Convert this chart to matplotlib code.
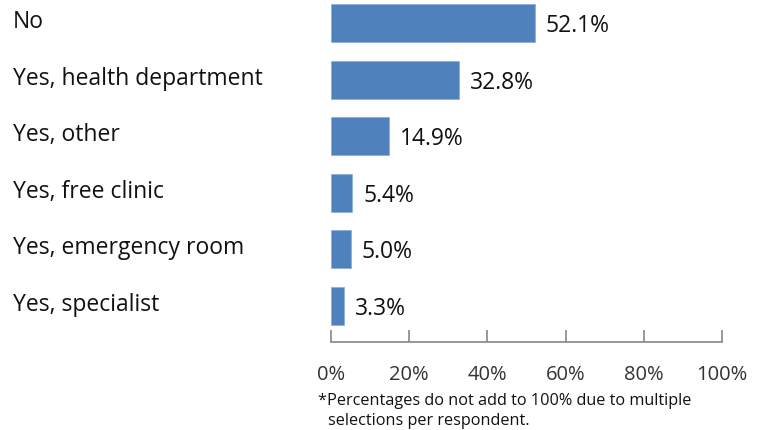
import matplotlib
matplotlib.use("Agg")
import matplotlib.pyplot as plt

categories = ["No", "Yes, health department", "Yes, other", "Yes, free clinic",
              "Yes, emergency room", "Yes, specialist"]
values = [52.1, 32.8, 14.9, 5.4, 5.0, 3.3]
tick_values = [0, 20, 40, 60, 80, 100]
tick_labels = ["0%", "20%", "40%", "60%", "80%", "100%"]
footnote_lines = ["*Percentages do not add to 100% due to multiple",
                  "selections per respondent."]

plt.rcParams["font.family"] = ["Open Sans", "DejaVu Sans"]

W, H = 765, 431
fig = plt.figure(figsize=(W / 100, H / 100), dpi=100)
ax = fig.add_axes([331 / W, 1 - 343 / H, (722 - 331) / W, 343 / H])

pos = list(range(len(categories)))
ax.barh(pos, values, height=0.67, color="#4F81BD", edgecolor="#8EAEDB", linewidth=0.6)
ax.set_xlim(0, 100)
ax.set_ylim(5.636, -0.424)

# value labels, cap height centred on the bar
for y, v in zip(pos, values):
    ax.annotate(f"{v:.1f}%", xy=(v, y), xytext=(11, -8), textcoords="offset pixels",
                va="baseline", ha="left", fontsize=16.5, color="#111111")

# category labels at the left edge of the figure
for y, c in zip(pos, categories):
    ax.annotate(c, xy=(0, y), xycoords=("figure fraction", "data"),
                xytext=(13, -4), textcoords="offset pixels",
                va="baseline", ha="left", fontsize=16.5, color="#111111")

for s in ["top", "right", "left"]:
    ax.spines[s].set_visible(False)
ax.spines["bottom"].set_color("#868686")
ax.spines["bottom"].set_linewidth(1.2)
ax.set_yticks([])
ax.set_xticks(tick_values)
ax.set_xticklabels(tick_labels, fontsize=14.5, color="#333333")
ax.tick_params(axis="x", direction="in", length=9, width=1.2, color="#868686", pad=16)

fig.text(318 / W, 1 - 405 / H, footnote_lines[0], ha="left", va="baseline",
         fontsize=11.7, color="#111111")
fig.text(328 / W, 1 - 425 / H, footnote_lines[1], ha="left", va="baseline",
         fontsize=11.7, color="#111111")

fig.savefig("out.png", dpi=100)
